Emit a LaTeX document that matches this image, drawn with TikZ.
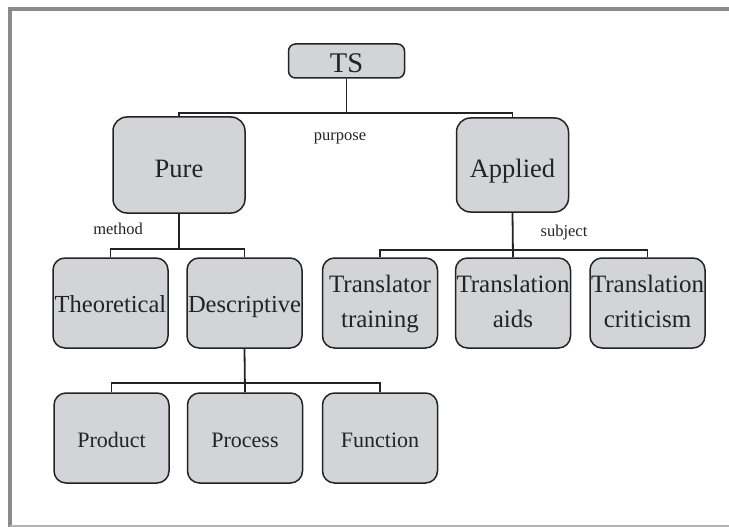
\documentclass[tikz,border=0pt]{standalone}
\usepackage{fontspec}
\setmainfont{Liberation Serif}
\definecolor{boxgray}{RGB}{211,212,215}
\definecolor{framegray}{RGB}{138,138,138}
\definecolor{ink}{RGB}{35,35,35}
\begin{document}
\begin{tikzpicture}[x=1pt,y=-1pt,
  box/.style={draw=ink, fill=boxgray, line width=1.5pt, rounded corners=12pt,
    inner sep=0pt, align=center, text=ink, minimum width=115pt, minimum height=90pt},
  one/.style={text height=18pt, text depth=0pt},
  big/.style={text height=24pt, text depth=0pt},
  conn/.style={draw=ink, line width=1.8pt},
  lab/.style={inner sep=0pt, text=ink, font=\fontsize{16.5}{18}\selectfont}]
\useasboundingbox (0,0) rectangle (729,527);
\draw[framegray, line width=4pt] (729,9.5) -- (10.3,9.5) -- (10.3,527);
\draw[black!30, line width=2pt] (10,526) -- (729,526);

% level 0
\node[box, big, minimum width=116pt, minimum height=34pt, rounded corners=7pt,
  font=\fontsize{28.5}{30}\selectfont] (ts) at (346.5,61) {TS};
% level 1
\node[box, big, minimum width=132pt, minimum height=96pt, rounded corners=14pt,
  font=\fontsize{26.5}{30}\selectfont] (pure) at (179,165) {Pure};
\node[box, big, minimum width=112pt, minimum height=94pt, rounded corners=14pt,
  font=\fontsize{26.5}{30}\selectfont] (applied) at (512.5,165) {Applied};
% level 2
\node[box, one, font=\fontsize{24.5}{30}\selectfont] (theo) at (110.5,303) {Theoretical};
\node[box, one, font=\fontsize{24.5}{30}\selectfont] (desc) at (244.5,303) {Descriptive};
\node[box, font=\fontsize{25}{35}\selectfont] (tt) at (380,303) {\strut Translator\\\strut training};
\node[box, font=\fontsize{25}{35}\selectfont] (ta) at (513,303) {\strut Translation\\\strut aids};
\node[box, font=\fontsize{25}{35}\selectfont] (tc) at (647.5,303) {\strut Translation\\\strut criticism};
% level 3
\node[box, one, font=\fontsize{22}{26}\selectfont] (prod) at (111.5,438) {Product};
\node[box, one, font=\fontsize{22}{26}\selectfont] (proc) at (245,438) {Process};
\node[box, one, font=\fontsize{22}{26}\selectfont] (func) at (380,438) {Function};

% connectors
\draw[conn] (ts.south) -- ++(0,34) -| (pure.north);
\draw[conn] (ts.south) ++(0,34) -| (applied.north);
\draw[conn] (pure.south) -- ++(0,35) -| (theo.north);
\draw[conn] (pure.south) ++(0,35) -| (desc.north);
\draw[conn] (applied.south) -- ++(0,37) -| (tt.north);
\draw[conn] (applied.south) ++(0,37) -| (tc.north);
\draw[conn] (applied.south) -- (ta.north);
\draw[conn] (desc.south) -- ++(0,34) -| (prod.north);
\draw[conn] (desc.south) ++(0,34) -| (func.north);
\draw[conn] (desc.south) -- (proc.north);

% labels
\node[lab] (purpose) at (340,138) {purpose};
\node[lab] (method) at (118,229) {method};
\node[lab] (subject) at (564,233) {subject};
\end{tikzpicture}
\end{document}
